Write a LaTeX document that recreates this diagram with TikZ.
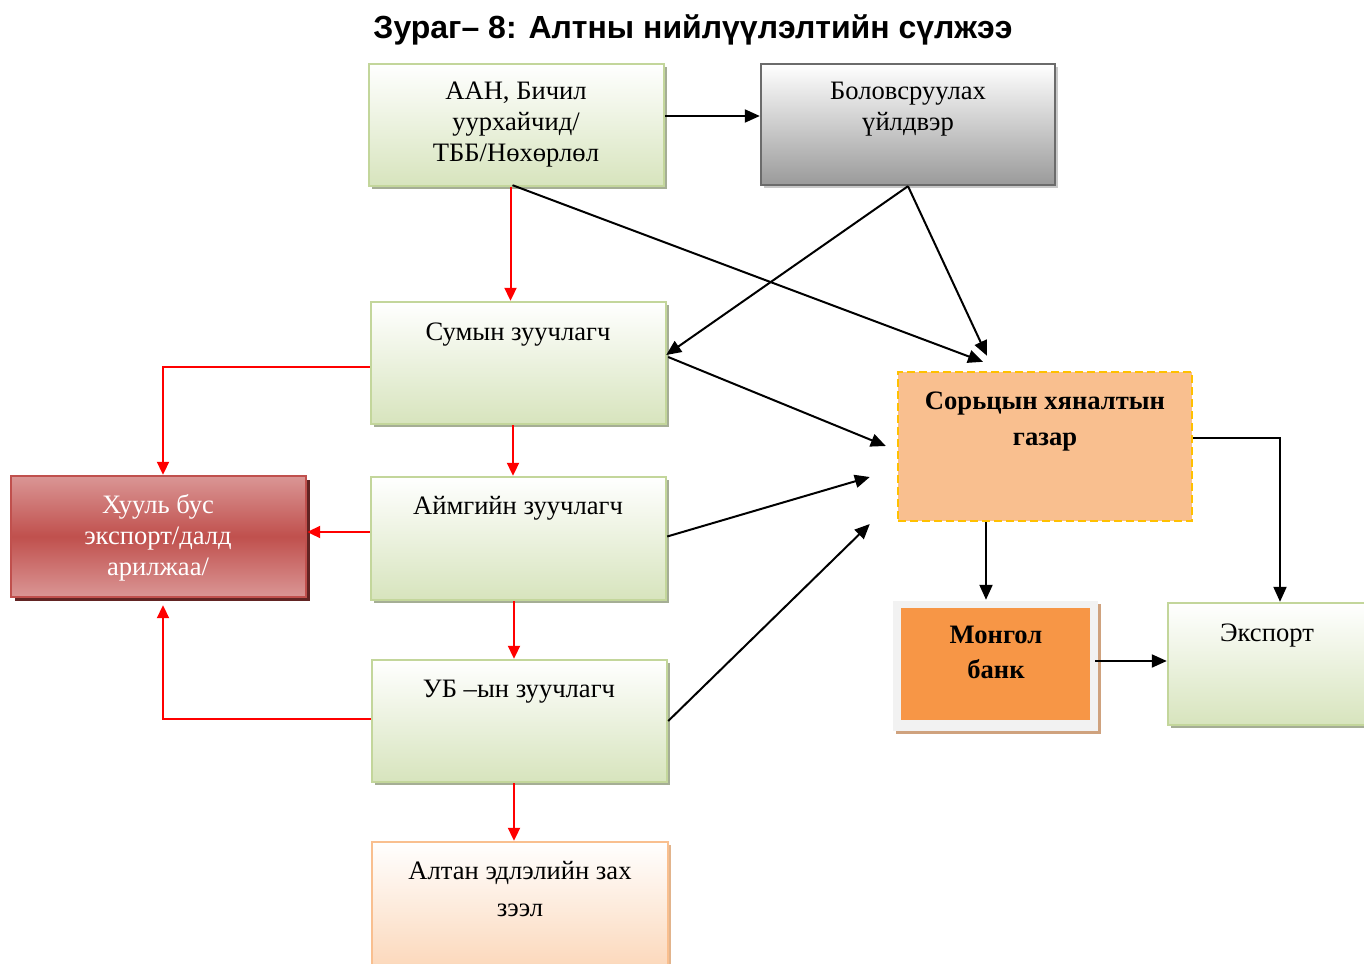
\documentclass[tikz,border=0pt]{standalone}
\usepackage{fontspec}
\setmainfont{Liberation Serif}
\newfontfamily\titlefont{Liberation Sans}
\usetikzlibrary{fit,shadows,arrows.meta,calc}
\definecolor{gline}{HTML}{C3D69B}
\definecolor{gbot}{HTML}{D7E4BD}
\definecolor{gshad}{HTML}{A5AE95}
\definecolor{grline}{HTML}{6B6B6B}
\definecolor{grbot}{HTML}{9A9A9A}
\definecolor{grshad}{HTML}{C8C8C8}
\definecolor{rline}{HTML}{C0504D}
\definecolor{rmid}{HTML}{C0504D}
\definecolor{rlight}{HTML}{DA9695}
\definecolor{rshad}{HTML}{622423}
\definecolor{sorfill}{HTML}{F9BF8F}
\definecolor{sorline}{HTML}{FFC000}
\definecolor{monfill}{HTML}{F79646}
\definecolor{monframe}{HTML}{F2F2F2}
\definecolor{monshad}{HTML}{CFA27E}
\definecolor{altline}{HTML}{F9BF8F}
\definecolor{altbot}{HTML}{FBD4B4}
\definecolor{altshad}{HTML}{E2B48C}
\definecolor{redarrow}{HTML}{FF0000}
\begin{document}
\begin{tikzpicture}[x=0.5pt,y=-0.5pt,
  box/.style={inner sep=0pt, line width=1.2pt},
  greenbox/.style={box, draw=gline, top color=white, bottom color=gbot,
    general shadow={fill=gshad, shadow xshift=1.5pt, shadow yshift=-1.5pt}},
  graybox/.style={box, draw=grline, top color=white, bottom color=grbot,
    general shadow={fill=grshad, shadow xshift=1.5pt, shadow yshift=-1.5pt}},
  redbox/.style={box, draw=rline, top color=rlight, bottom color=rlight, middle color=rmid,
    general shadow={fill=rshad, shadow xshift=2pt, shadow yshift=-2pt}},
  sorbox/.style={box, draw=sorline, fill=sorfill, dash pattern=on 4pt off 2pt},
  monframebox/.style={box, draw=none, fill=monframe,
    general shadow={fill=monshad, shadow xshift=1.5pt, shadow yshift=-1.5pt}},
  moninner/.style={inner sep=0pt, fill=monfill},
  altbox/.style={box, draw=altline, top color=white, bottom color=altbot,
    general shadow={fill=altshad, shadow xshift=1.5pt, shadow yshift=-1.5pt}},
  txt/.style={inner sep=0pt, anchor=north, align=center, font=\fontsize{13.3}{15.5}\selectfont},
  btxt/.style={txt, font=\bfseries\fontsize{13.3}{18}\selectfont},
  blk/.style={line width=1pt, draw=black, -{Triangle[length=7.5pt,width=6.5pt]}},
  redl/.style={line width=1pt, draw=redarrow, -{Triangle[length=6.5pt,width=6pt]}}
]
\useasboundingbox (0,0) rectangle (1364,963);

\node[font=\titlefont\bfseries\fontsize{16}{19}\selectfont] (title) at (693,30) {Зураг– 8: Алтны нийлүүлэлтийн сүлжээ};

% boxes
\node[greenbox, fit={(369,64) (664,186)}] (aan) {};
\node[graybox, fit={(761,64) (1055,185)}] (bol) {};
\node[greenbox, fit={(371,302) (666,424)}] (sum) {};
\node[greenbox, fit={(371,477) (666,600)}] (aim) {};
\node[greenbox, fit={(372,660) (667,782)}] (ub) {};
\node[altbox, fit={(372,842) (668,980)}] (alt) {};
\node[redbox, fit={(11,476) (306,597)}] (hb) {};
\node[sorbox, fit={(898,372) (1192,521)}] (sor) {};
\node[monframebox, fit={(893,601) (1098,731)}] (mon) {};
\node[moninner, fit={(901,608) (1090,720)}] (moni) {};
\node[greenbox, fit={(1168,603) (1380,725)}] (exp) {};

% texts
\node[txt] (taan) at (516,82) {ААН, Бичил\\уурхайчид/\\ТББ/Нөхөрлөл};
\node[txt] (tbol) at (908,82) {Боловсруулах\\үйлдвэр};
\node[txt] (tsum) at (518,322) {Сумын зуучлагч};
\node[txt] (taim) at (518,496) {Аймгийн зуучлагч};
\node[txt] (tub) at (519,680) {УБ –ын зуучлагч};
\node[txt, font=\fontsize{13.3}{18.5}\selectfont] (talt) at (520,861) {Алтан эдлэлийн зах\\зээл};
\node[txt, text=white] (thb) at (158,494) {Хууль бус\\экспорт/далд\\арилжаа/};
\node[btxt] (tsor) at (1045,391) {Сорьцын хяналтын\\газар};
\node[btxt, font=\bfseries\fontsize{13.3}{17.5}\selectfont] (tmon) at (996,626) {Монгол\\банк};
\node[txt] (texp) at (1267,623) {Экспорт};

% black connectors
\coordinate (c1) at ($(aan.east)+(0,-9)$);
\draw[blk] (c1) -- (c1 -| bol.west);
\draw[blk] ($(aan.south)+(-4,-2)$) -- ($(sor.north)+(-62,-9)$);
\draw[blk] (bol.south) -- ($(sum.east)+(-1,-8)$);
\draw[blk] (bol.south) -- ($(sor.north)+(-58,-15)$);
\draw[blk] ($(sum.east)+(1,-6)$) -- ($(sor.west)+(-11,-0.5)$);
\draw[blk] ($(aim.east)+(0,-2)$) -- ($(sor.west)+(-27,30.5)$);
\draw[blk] (ub.east) -- ($(sor.west)+(-27,77.5)$);
\coordinate (c15) at ($(sor.south)+(-59,0)$);
\draw[blk] (c15) -- (c15 |- mon.north);
\draw[blk] ($(sor.east)+(0,-8.5)$) -| ($(exp.north)+(6,0)$);
\coordinate (c17) at ($(mon.east)+(-4,-5)$);
\draw[blk] (c17) -- (c17 -| exp.west);

% red connectors
\coordinate (r1) at ($(aan.south)+(-6,0)$);
\draw[redl] (r1) -- (r1 |- sum.north);
\coordinate (r2) at ($(sum.south)+(-5.5,0)$);
\draw[redl] (r2) -- (r2 |- aim.north);
\coordinate (r3) at ($(aim.south)+(-4.5,0)$);
\draw[redl] (r3) -- (r3 |- ub.north);
\coordinate (r4) at ($(ub.south)+(-5.5,0)$);
\draw[redl] (r4) -- (r4 |- alt.north);
\draw[redl] ($(sum.west)+(0,4)$) -| ($(hb.north)+(4.5,0)$);
\coordinate (r6) at ($(aim.west)+(0,-6.5)$);
\draw[redl] (r6) -- (r6 -| hb.east);
\draw[redl] ($(ub.west)+(0,-2)$) -| ($(hb.south)+(4.5,7)$);
\end{tikzpicture}
\end{document}
